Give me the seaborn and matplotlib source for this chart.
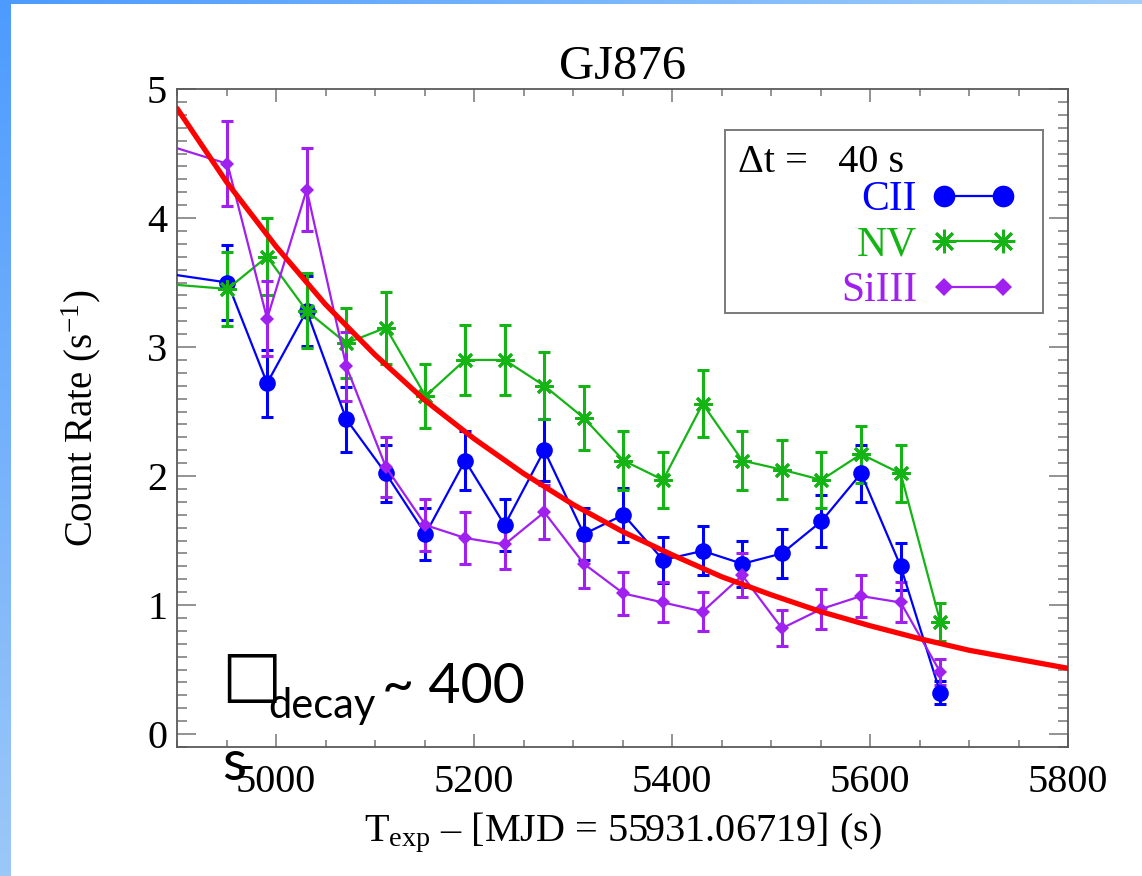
import numpy as np
import pandas as pd
import matplotlib
matplotlib.use("Agg")
import matplotlib.pyplot as plt
from matplotlib.ticker import MultipleLocator
from matplotlib.patches import Rectangle
import seaborn as sns

# ---------------- data ----------------
times = [4871, 4951, 4991, 5031, 5071, 5111, 5151, 5191, 5231, 5271,
         5311, 5351, 5391, 5431, 5471, 5511, 5551, 5591, 5631, 5671]

cii = [3.59, 3.50, 2.72, 3.28, 2.44, 2.02, 1.55, 2.12, 1.62, 2.20,
       1.55, 1.70, 1.35, 1.42, 1.32, 1.40, 1.65, 2.02, 1.30, 0.32]
cii_err = [0.29, 0.29, 0.26, 0.27, 0.25, 0.22, 0.20, 0.23, 0.20, 0.24,
           0.20, 0.21, 0.18, 0.19, 0.18, 0.19, 0.20, 0.22, 0.18, 0.09]

nv = [3.50, 3.45, 3.70, 3.28, 3.03, 3.15, 2.62, 2.90, 2.90, 2.70,
      2.45, 2.12, 1.97, 2.56, 2.12, 2.05, 1.97, 2.17, 2.02, 0.87]
nv_err = [0.29, 0.29, 0.30, 0.29, 0.27, 0.28, 0.25, 0.27, 0.27, 0.26,
          0.25, 0.23, 0.22, 0.26, 0.23, 0.23, 0.22, 0.22, 0.22, 0.145]

siiii = [4.61, 4.42, 3.22, 4.22, 2.85, 2.07, 1.62, 1.52, 1.47, 1.72,
         1.32, 1.09, 1.02, 0.95, 1.23, 0.82, 0.97, 1.07, 1.02, 0.48]
siiii_err = [0.33, 0.33, 0.29, 0.32, 0.27, 0.23, 0.20, 0.20, 0.19, 0.21,
             0.185, 0.165, 0.155, 0.15, 0.17, 0.14, 0.155, 0.165, 0.155, 0.10]

fit_t = [4900, 4950, 5000, 5050, 5100, 5150, 5200, 5250, 5300, 5350,
         5400, 5450, 5500, 5550, 5600, 5650, 5700, 5750, 5800]
fit_rate = [4.85, 4.28, 3.78, 3.33, 2.94, 2.59, 2.29, 2.02, 1.78, 1.57,
            1.39, 1.22, 1.08, 0.95, 0.84, 0.74, 0.65, 0.58, 0.51]

series_names = ["CII", "NV", "SiIII"]
x_ticks = [5000, 5200, 5400, 5600, 5800]
y_ticks = [0, 1, 2, 3, 4, 5]

# ---------------- style ----------------
sns.set_style("ticks")
plt.rcParams["font.family"] = ["Liberation Serif", "DejaVu Serif"]
plt.rcParams["mathtext.fontset"] = "custom"
plt.rcParams["mathtext.rm"] = "Liberation Serif"
plt.rcParams["mathtext.it"] = "Liberation Serif:italic"
plt.rcParams["mathtext.bf"] = "Liberation Serif:bold"
plt.rcParams["text.color"] = "black"
plt.rcParams["axes.labelcolor"] = "black"
plt.rcParams["axes.titlecolor"] = "black"

BLUE = "#0000FF"
GREEN = "#14B414"
PURPLE = "#A020F0"
RED = "#FF0000"

fig = plt.figure(figsize=(11.42, 8.76), dpi=100, facecolor="white")

# slide decoration: blue bars at left and top
left_bar = fig.add_axes([0, 0, 11 / 1142, 1])
grad_v = np.linspace(0, 1, 256).reshape(-1, 1)
c_top = np.array([0x4D, 0x9B, 0xFF]) / 255
c_bot = np.array([0x9C, 0xC8, 0xF8]) / 255
img_v = c_top[None, None, :] * (1 - grad_v[:, :, None]) + c_bot[None, None, :] * grad_v[:, :, None]
left_bar.imshow(img_v, aspect="auto", extent=[0, 1, 0, 1])
left_bar.axis("off")

top_bar = fig.add_axes([0, 1 - 4 / 876, 1, 4 / 876])
grad_h = np.linspace(0, 1, 256).reshape(1, -1)
c_right = np.array([0xA2, 0xCE, 0xF8]) / 255
img_h = c_top[None, None, :] * (1 - grad_h[:, :, None]) + c_right[None, None, :] * grad_h[:, :, None]
top_bar.imshow(img_h, aspect="auto", extent=[0, 1, 0, 1])
top_bar.axis("off")

ax = fig.add_axes([177 / 1142, 1 - 747 / 876, 891 / 1142, 658 / 876])
ax.set_facecolor("white")

df = pd.DataFrame({"time": times, "CII": cii, "NV": nv, "SiIII": siiii})

specs = [
    ("CII", cii_err, BLUE, "o", 12, 0),
    ("NV", nv_err, GREEN, (8, 2, 0), 13, 2.0),
    ("SiIII", siiii_err, PURPLE, "D", 7, 0),
]
handles = []
for name, err, col, mk, ms, mew in specs:
    ax.errorbar(df["time"], df[name], yerr=err, fmt="none", ecolor=col,
                elinewidth=2.2, capsize=4.5, capthick=2.2, zorder=2)
    sns.lineplot(x="time", y=name, data=df, ax=ax, color=col, marker=mk,
                 markersize=ms, markeredgecolor=col, markerfacecolor=col,
                 markeredgewidth=mew, linewidth=1.6, sort=False,
                 errorbar=None, label=name, zorder=3, legend=False)
    handles.append(ax.lines[-1])

sns.lineplot(x=fit_t, y=fit_rate, ax=ax, color=RED, linewidth=3.8,
             errorbar=None, zorder=4, legend=False)

ax.set_xlim(4900, 5800)
ax.set_ylim(-0.1, 5)
ax.set_xticks(x_ticks)
ax.set_yticks(y_ticks)
ax.xaxis.set_minor_locator(MultipleLocator(50))
ax.yaxis.set_minor_locator(MultipleLocator(0.1))
ax.tick_params(axis="both", which="both", direction="in", top=True, right=True,
               color="#8a8a8a", width=1.3, labelsize=29, labelcolor="black")
ax.tick_params(axis="x", which="major", length=9.5, pad=12)
ax.tick_params(axis="x", which="minor", length=5)
ax.tick_params(axis="y", which="major", length=13.5, pad=7)
ax.tick_params(axis="y", which="minor", length=7)
for sp in ax.spines.values():
    sp.set_color("#5a5a5a")
    sp.set_linewidth(1.3)

ax.set_title("GJ876", fontsize=35, pad=6)
ax.set_xlabel(r"T$_{\mathrm{exp}}$ – [MJD = 55931.06719] (s)", fontsize=29)
ax.set_ylabel(r"Count Rate (s$^{-1}$)", fontsize=28)
ax.yaxis.set_label_coords(-0.083, 0.5)
ax.xaxis.labelpad = 7

# legend box + annotation
ax.add_patch(Rectangle((0.615, 0.6596), 0.357, 0.278, transform=ax.transAxes,
                       fill=False, ec="#7a7a7a", lw=1.4, zorder=5))
ax.text(0.6296, 0.874, "Δt =   40 s", transform=ax.transAxes, fontsize=29,
        va="baseline", ha="left", color="black", zorder=6)
leg = ax.legend(handles, series_names, loc="center right",
                bbox_to_anchor=(0.964, 0.762), frameon=False,
                markerfirst=False, numpoints=2, handlelength=2.0,
                handletextpad=0.35, labelspacing=0.17, borderpad=0,
                markerscale=1.3, fontsize=30, labelcolor="linecolor")

# overlay slide text
fig.text(221 / 1142, 1 - 695 / 876, "□", fontsize=46, family="DejaVu Sans",
         va="baseline", ha="left", color="black")
fig.text(268 / 1142, 1 - 718 / 876, "decay", fontsize=30, family="Lato",
         va="baseline", ha="left", color="black")
fig.text(382 / 1142, 1 - 703 / 876, "~ 400", fontsize=40, family="Lato",
         va="baseline", ha="left", color="black")
fig.text(222 / 1142, 1 - 780 / 876, "s", fontsize=40, family="Lato",
         va="baseline", ha="left", color="black")

fig.savefig("out.png", dpi=100, facecolor="white")
